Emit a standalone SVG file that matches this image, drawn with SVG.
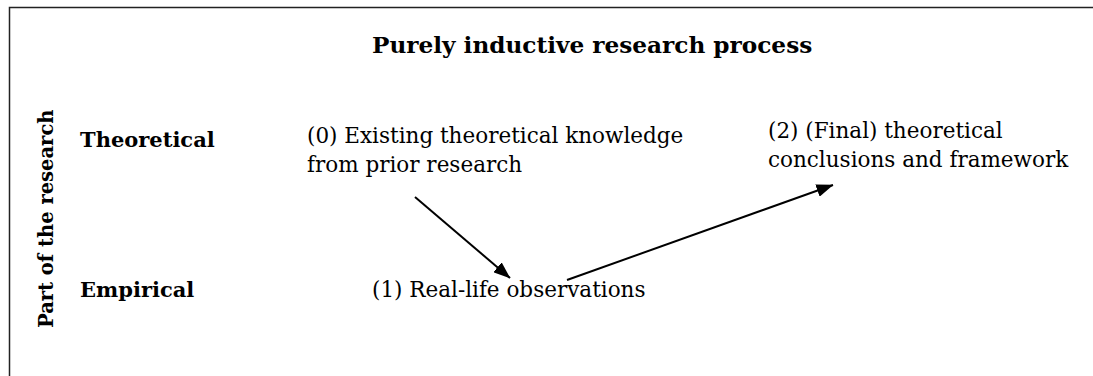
<svg xmlns="http://www.w3.org/2000/svg" width="1093" height="376" viewBox="0 0 1093 376">
<style>
.t{font-family:"DejaVu Serif","Liberation Serif",serif;fill:#000}
.b{font-weight:bold}
.body{font-size:21.5px}
.lbl{font-size:21px}
.conn{stroke:#000;stroke-width:2;fill:none}
</style>
<defs>
<marker id="ah" markerWidth="17" markerHeight="13" refX="16.5" refY="6.5" orient="auto" markerUnits="userSpaceOnUse">
<path d="M0,0 L17,6.5 L0,13 Z" fill="#000"/>
</marker>
</defs>
<rect width="1093" height="376" fill="#fff"/>
<path d="M9.5,376 V7.5 H1093" stroke="#222" stroke-width="1.5" fill="none"/>
<g id="title"><text class="t b" x="372" y="53" font-size="23.2">Purely inductive research process</text></g>
<g id="axis"><text class="t b" font-size="19.5" transform="translate(53,328) rotate(-90)">Part of the research</text></g>
<g id="row-theoretical"><text class="t b lbl" x="80" y="147">Theoretical</text></g>
<g id="row-empirical"><text class="t b lbl" x="80" y="297">Empirical</text></g>
<g id="node0"><text class="t body" x="307" y="143">(0) Existing theoretical knowledge</text><text class="t body" x="307" y="172">from prior research</text></g>
<g id="node1"><text class="t body" x="372" y="297">(1) Real-life observations</text></g>
<g id="node2"><text class="t body" x="768" y="138">(2) (Final) theoretical</text><text class="t body" x="768" y="167">conclusions and framework</text></g>
<g id="connectors">
<line class="conn" x1="415" y1="197" x2="510" y2="278" marker-end="url(#ah)"/>
<line class="conn" x1="567" y1="280" x2="833" y2="185" marker-end="url(#ah)"/>
</g>
</svg>
